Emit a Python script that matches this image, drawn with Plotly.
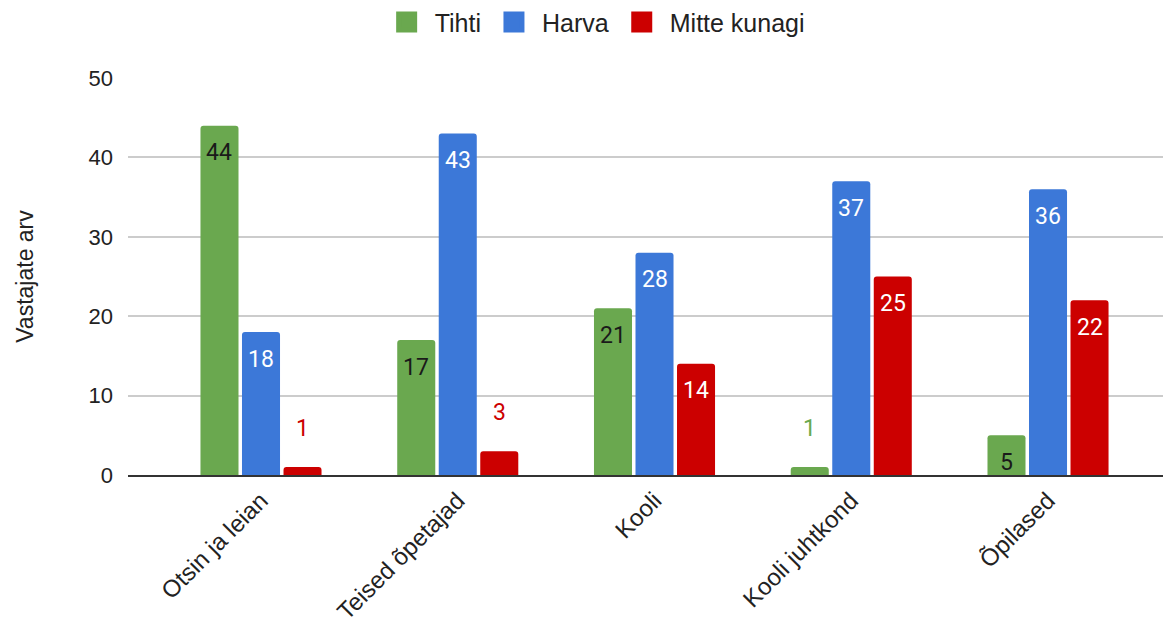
import plotly.graph_objects as go

categories = ["Otsin ja leian", "Teised õpetajad", "Kooli", "Kooli juhtkond", "Õpilased"]
series_names = ["Tihti", "Harva", "Mitte kunagi"]
tihti = [44, 17, 21, 1, 5]
harva = [18, 43, 28, 37, 36]
mitte_kunagi = [1, 3, 14, 25, 22]

values = [tihti, harva, mitte_kunagi]
colors = ["#6aa84f", "#3c78d8", "#cc0000"]
inside_text_colors = ["#1a1a1a", "#ffffff", "#ffffff"]

BARGAP = 0.367
GROUPGAP = 0.084
LABEL_FONT = "Roboto, Arial, sans-serif"
AXIS_FONT = "Liberation Sans, Arial, sans-serif"
MIN_INSIDE = 4

fig = go.Figure()
for name, vals, col in zip(series_names, values, colors):
    fig.add_trace(go.Bar(
        name=name,
        x=categories,
        y=vals,
        marker=dict(color=col, cornerradius=3, line=dict(width=0)),
        showlegend=False,
        legendgroup=name,
        hoverinfo="x+y+name",
    ))
# legend entries with larger square swatches
for name, col in zip(series_names, colors):
    fig.add_trace(go.Scatter(
        name=name, x=[None], y=[None], mode="markers", legendgroup=name,
        marker=dict(symbol="square", size=16, color=col, line=dict(color=col, width=5)),
        showlegend=True, hoverinfo="skip",
    ))

# value labels: inside near the top of tall bars, above short bars
n = len(series_names)
slot = (1 - BARGAP) / n
for i, (vals, col, tcol) in enumerate(zip(values, colors, inside_text_colors)):
    for j, v in enumerate(vals):
        inside = v >= MIN_INSIDE
        fig.add_annotation(
            x=j + (i - (n - 1) / 2) * slot, y=v, xref="x", yref="y",
            text=str(v), showarrow=False, yanchor="middle",
            yshift=-27 if inside else 39,
            font=dict(color=tcol if inside else col, size=23, family=LABEL_FONT),
        )

fig.update_layout(
    width=1163, height=617,
    barmode="group", bargap=BARGAP, bargroupgap=GROUPGAP,
    plot_bgcolor="white", paper_bgcolor="white",
    margin=dict(l=120, r=1, t=70, b=150),
    font=dict(family=AXIS_FONT, size=22, color="#222222"),
    legend=dict(
        orientation="h", xref="container", x=0.504, xanchor="center",
        yref="container", y=0.977, yanchor="middle",
        font=dict(size=25, family=AXIS_FONT, color="#222222"),
        itemsizing="trace", traceorder="normal", itemwidth=46,
    ),
    showlegend=True,
)
fig.update_xaxes(
    type="category", range=[-0.676, 4.62], automargin=False,
    tickangle=-45, tickfont=dict(size=24, family=AXIS_FONT, color="#222222"),
    showgrid=False, showline=True, linecolor="#333333", linewidth=2,
    ticks="", ticklen=0,
)
fig.update_yaxes(
    range=[0, 50], dtick=10, showgrid=True, gridcolor="#cccccc", gridwidth=1.5,
    zeroline=False, showline=False, automargin=False,
    tickfont=dict(size=22, family=AXIS_FONT, color="#222222"),
    ticklabelstandoff=14,
    title=dict(text="Vastajate arv", font=dict(size=23, family=AXIS_FONT, color="#222222"), standoff=48),
)

fig.write_html("out.html")
